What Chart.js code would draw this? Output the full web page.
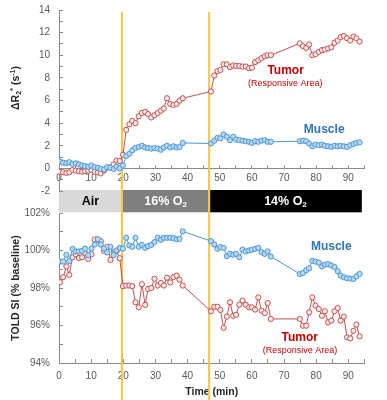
<!DOCTYPE html>
<html>
<head>
<meta charset="utf-8">
<script src="https://cdn.jsdelivr.net/npm/chart.js@4/dist/chart.umd.min.js"></script>
<style>
  html, body { margin: 0; padding: 0; background: #ffffff; }
  #wrap { position: relative; width: 387px; height: 400px; overflow: hidden; }
  #box2 { position: absolute; left: 0; top: 186px; width: 387px; height: 214px; }
  #box1 { position: absolute; left: 0; top: -9px; width: 387px; height: 219px; }
</style>
</head>
<body>
<div id="wrap">
  <div id="box2"><canvas id="c2"></canvas></div>
  <div id="box1"><canvas id="c1"></canvas></div>
</div>
<script>
// ---------------- DATA ----------------
const times = [
  0.3, 1.3, 2.3, 3.2, 4.2, 5.2, 6.2, 7.2, 8.1, 9.1, 10.1, 11.1, 12.1, 13.0, 14.0, 15.0, 16.0, 17.0, 17.9, 18.9,
  19.9, 20.9, 21.9, 22.8, 23.8, 24.8, 25.8, 26.8, 27.7, 28.7, 29.7, 30.7, 31.7, 32.6, 33.6, 34.6, 35.6, 36.6, 37.5, 38.5,
  47.3, 48.3, 49.3, 50.2, 51.2, 52.2, 53.2, 54.2, 55.1, 56.1, 57.1, 58.1, 59.1, 60.0, 61.0, 62.0, 63.0, 64.0, 64.9, 65.9,
  74.9, 75.9, 76.9, 77.8, 78.8, 79.8, 80.8, 81.8, 82.7, 83.7, 84.7, 85.7, 86.7, 87.6, 88.6, 89.6, 90.6, 91.6, 92.5, 93.5
];

const tumorR2 = [
  -0.3, -0.35, -0.4, -0.35, -0.15, -0.2, -0.25, -0.3, -0.25, -0.2,
  -0.15, -0.3, -0.35, -0.45, -0.2, 0.05, 0.1, 0.35, 0.7, 0.65,
  1.2, 3.4, 3.9, 4.2, 4.0, 4.6, 4.9, 5.0, 4.8, 4.5,
  4.7, 4.9, 5.1, 5.3, 6.2, 5.7, 5.6, 5.7, 6.0, 6.2,
  6.8, 8.2, 8.6, 8.7, 9.2, 9.2, 8.95, 9.1, 9.05, 9.05, 9.0, 9.0, 8.85, 8.9, 9.4, 9.55, 9.75, 9.9, 10.0, 10.0,
  11.05, 10.8, 10.65, 10.95, 10.0, 10.1, 10.3, 10.45, 10.5, 10.6, 10.7, 11.1, 11.3, 11.6, 11.7, 11.5, 11.3, 11.65, 11.5, 11.2
];

const muscleR2 = [
  0.6, 0.5, 0.45, 0.55, 0.4, 0.45, 0.35, 0.25, 0.2, 0.15,
  0.25, 0.1, 0.05, -0.05, -0.1, 0.1, 0.05, -0.05, 0.15, 0.0,
  0.25, 1.1, 1.3, 1.6, 1.8, 1.9, 2.0, 1.85, 1.8, 1.75,
  1.8, 1.75, 1.65, 1.85, 2.0, 1.85, 1.95, 1.85, 1.9, 2.25,
  2.2, 2.45, 2.7, 2.65, 3.0, 2.8, 2.5, 2.8, 2.55, 2.5, 2.45, 2.4, 2.35, 2.25, 2.4, 2.35, 2.45, 2.5, 2.35, 2.35,
  2.4, 2.45, 2.4, 2.2, 1.95, 2.1, 2.05, 2.1, 2.0, 1.95, 1.9, 2.0, 1.95, 2.0, 1.95, 1.9, 2.05, 2.15, 2.25, 2.3
];

const tumorTOLD = [
  98.31, 98.58, 99.15, 98.7, 99.64, 99.8, 99.6, 99.64, 99.87, 99.55,
  99.8, 100.59, 100.59, 100.5, 99.98, 100.2, 99.5, 99.91, 99.96, 99.59,
  98.1, 98.13, 98.13, 98.1, 97.24, 96.97, 98.2, 97.1, 97.95, 98.0,
  98.49, 98.13, 98.27, 98.13, 98.55, 98.3, 98.58, 98.66, 98.45, 98.13,
  96.76, 97.0, 97.0, 96.83, 95.87, 96.47, 97.24, 96.52, 96.57, 97.11, 97.33, 97.1, 96.97, 96.97, 96.85, 97.5, 96.79, 96.66, 97.2, 96.35,
  96.35, 95.99, 95.99, 96.7, 97.5, 97.06, 96.88, 96.52, 96.76, 96.17, 96.26, 96.76, 96.93, 96.26, 96.47, 95.37, 95.31, 95.72, 96.05, 95.42
];

const muscleTOLD = [
  99.41, 99.41, 99.77, 99.43, 100.09, 99.95, 99.95, 99.98, 100.1, 99.75,
  100.1, 100.32, 100.6, 100.32, 100.1, 99.9, 100.2, 99.75, 100.0, 100.14,
  100.1, 100.68, 100.27, 100.2, 100.68, 100.2, 100.3, 100.14, 100.23, 100.3,
  100.45, 100.68, 100.57, 100.68, 100.68, 100.68, 100.66, 100.6, 100.62, 101.02,
  100.5, 100.32, 100.09, 100.18, 100.14, 99.7, 99.82, 99.77, 99.82, 99.64, 100.05, 99.95, 100.0, 100.04, 100.09, 100.14, 99.91, 99.82, 99.95, 99.68,
  98.75, 98.8, 98.95, 99.05, 99.45, 99.41, 99.35, 99.15, 99.25, 99.27, 99.2, 99.12, 98.9, 98.66, 98.57, 98.52, 98.5, 98.48, 98.62, 98.75
];

const seriesNames = ['Tumor', 'Muscle'];
const tumorNote = '(Responsive Area)';
const phaseNames = ['Air', '16% O2', '14% O2'];
const phaseBounds = [0, 19.6, 46.7, 94.2];
const switchTimes = [19.6, 46.7];
const xTickLabels = [0, 10, 20, 30, 40, 50, 60, 70, 80, 90];
const r2TickLabels = [-2, 0, 2, 4, 6, 8, 10, 12, 14];
const toldTickLabels = [94, 96, 98, 100, 102];

// ---------------- STYLE ----------------
const FONT = "'Liberation Sans', Arial, sans-serif";
Chart.defaults.font.family = FONT;
const AXIS = '#8a8a8a';
const TICKTXT = '#595959';
const TUMOR = '#c4504f', TUMOR_FILL = '#fbeaea';
const MUSCLE = '#4b96d6', MUSCLE_FILL = '#b8d8f2';
const YELLOW = '#f8c545';
const TOP_SHIFT = 9; // top canvas is placed 9px above the page edge

const pts = vals => times.map((t, i) => ({ x: t, y: vals[i] }));
const ds = (label, vals, c, f) => ({
  label, data: pts(vals), borderColor: c, backgroundColor: f,
  pointBackgroundColor: f, pointBorderColor: c, pointRadius: 2.6,
  pointBorderWidth: 1, borderWidth: 1, tension: 0
});

const phaseLinesPlugin = {
  id: 'phaseLines',
  beforeDatasetsDraw(chart, args, opts) {
    const ctx = chart.ctx, xs = chart.scales.x;
    ctx.save();
    ctx.strokeStyle = YELLOW; ctx.lineWidth = 2;
    switchTimes.forEach(t => {
      const x = xs.getPixelForValue(t);
      ctx.beginPath();
      ctx.moveTo(x, opts.fromChartTop ? chart.chartArea.top + 2 : 0);
      ctx.lineTo(x, chart.height);
      ctx.stroke();
    });
    ctx.restore();
  }
};

function drawSubText(ctx, main, sub, cx, cy, size, color) {
  ctx.font = 'bold ' + size + 'px ' + FONT;
  const w1 = ctx.measureText(main).width;
  ctx.font = 'bold ' + Math.round(size * 0.65) + 'px ' + FONT;
  const w2 = sub ? ctx.measureText(sub).width : 0;
  const x0 = cx - (w1 + w2) / 2;
  ctx.fillStyle = color; ctx.textBaseline = 'middle'; ctx.textAlign = 'left';
  ctx.font = 'bold ' + size + 'px ' + FONT;
  ctx.fillText(main, x0, cy);
  if (sub) {
    ctx.font = 'bold ' + Math.round(size * 0.65) + 'px ' + FONT;
    ctx.fillText(sub, x0 + w1, cy + size * 0.3);
  }
}

const bandPlugin = {
  id: 'phaseBand',
  beforeDraw(chart, args, opts) {
    const ctx = chart.ctx, xs = chart.scales.x, top = chart.chartArea.top;
    const y0 = top - 23, h = 22.3;
    ctx.save();
    for (let i = 0; i < phaseNames.length; i++) {
      const a = xs.getPixelForValue(phaseBounds[i]);
      const b = xs.getPixelForValue(phaseBounds[i + 1]);
      ctx.fillStyle = opts.fills[i];
      ctx.fillRect(a, y0, b - a, h);
      const name = phaseNames[i];
      const m = name.match(/^(.*O)(2)$/);
      drawSubText(ctx, m ? m[1] : name, m ? m[2] : '', (a + b) / 2, y0 + h / 2, 12.5, opts.text[i]);
    }
    ctx.restore();
  }
};

const notesPlugin = {
  id: 'notes',
  afterDatasetsDraw(chart, args, opts) {
    const ctx = chart.ctx, xs = chart.scales.x, ys = chart.scales.y;
    ctx.save();
    ctx.textAlign = 'center'; ctx.textBaseline = 'middle';
    opts.items.forEach(n => {
      ctx.font = (n.bold ? 'bold ' : '') + n.size + 'px ' + FONT;
      ctx.fillStyle = n.color;
      ctx.fillText(n.text, xs.getPixelForValue(n.x), ys.getPixelForValue(n.y));
    });
    ctx.restore();
  }
};

const r2TitlePlugin = {
  id: 'r2Title',
  afterDraw(chart) {
    const ctx = chart.ctx;
    const parts = [
      { t: '\u0394R', s: 10.5, dy: 0 },
      { t: '2', s: 7, dy: 3 },
      { t: '*', s: 7.5, dy: -3.5 },
      { t: ' (s', s: 10.5, dy: 0 },
      { t: '-1', s: 7, dy: -3.5 },
      { t: ')', s: 10.5, dy: 0 }
    ];
    let total = 0;
    parts.forEach(p => { ctx.font = 'bold ' + p.s + 'px ' + FONT; p.w = ctx.measureText(p.t).width; total += p.w; });
    ctx.save();
    ctx.translate(16.5, 88 + TOP_SHIFT);
    ctx.rotate(-Math.PI / 2);
    ctx.fillStyle = '#262626'; ctx.textBaseline = 'middle'; ctx.textAlign = 'left';
    let x = -total / 2;
    parts.forEach(p => {
      ctx.font = 'bold ' + p.s + 'px ' + FONT;
      ctx.fillText(p.t, x, p.dy);
      x += p.w;
    });
    ctx.restore();
  }
};

const tickFont = { family: FONT, size: 10 };
const labelCb = (list, suffix) => v => (list.includes(Math.round(v * 100) / 100) ? v + suffix : '');

const xAxis = (extra) => Object.assign({
  type: 'linear', min: 0, max: 95,
  ticks: { stepSize: 5, autoSkip: false, maxRotation: 0, color: TICKTXT, font: tickFont, padding: 8,
           callback: labelCb(xTickLabels, '') },
  grid: { drawOnChartArea: false, drawTicks: true, tickLength: -4, color: AXIS },
  border: { color: AXIS, width: 1 }
}, extra);

// ---------------- TOP CHART ----------------
new Chart(document.getElementById('c1'), {
  type: 'line',
  data: {
    datasets: [
      ds(seriesNames[1], muscleR2, MUSCLE, MUSCLE_FILL),
      ds(seriesNames[0], tumorR2, TUMOR, TUMOR_FILL)
    ]
  },
  options: {
    responsive: true, maintainAspectRatio: false, animation: false,
    layout: { padding: { left: 0, right: 22.6, top: 0, bottom: 0 } },
    plugins: {
      legend: { display: false }, tooltip: { enabled: false },
      phaseLines: { fromChartTop: true },
      notes: { items: [
        { text: seriesNames[0], x: 70.5, y: 8.65, size: 12, bold: true, color: '#c00000' },
        { text: tumorNote, x: 70.4, y: 7.47, size: 9, bold: false, color: '#c00000' },
        { text: seriesNames[1], x: 82.5, y: 3.4, size: 12, bold: true, color: '#2e75b6' }
      ] }
    },
    scales: {
      x: xAxis({ position: { y: 0 }, afterFit: s => { s.height = 21.4; } }),
      y: {
        min: -2, max: 14,
        ticks: { stepSize: 1, autoSkip: false, color: TICKTXT, font: tickFont, padding: 13,
                 callback: labelCb(r2TickLabels, '') },
        grid: { drawOnChartArea: false, drawTicks: true, tickLength: -4, color: AXIS },
        border: { color: AXIS, width: 1 },
        afterFit: s => { s.width = 59; }
      }
    }
  },
  plugins: [phaseLinesPlugin, notesPlugin, r2TitlePlugin]
});

// ---------------- BOTTOM CHART ----------------
new Chart(document.getElementById('c2'), {
  type: 'line',
  data: {
    datasets: [
      ds(seriesNames[1], muscleTOLD, MUSCLE, MUSCLE_FILL),
      ds(seriesNames[0], tumorTOLD, TUMOR, TUMOR_FILL)
    ]
  },
  options: {
    responsive: true, maintainAspectRatio: false, animation: false,
    layout: { padding: { left: 0, right: 22.6, top: 27, bottom: 0 } },
    plugins: {
      legend: { display: false }, tooltip: { enabled: false },
      phaseLines: { fromChartTop: false },
      phaseBand: { fills: ['#d9d9d9', '#7f7f7f', '#000000'], text: ['#000000', '#ffffff', '#ffffff'] },
      notes: { items: [
        { text: seriesNames[1], x: 84.7, y: 100.18, size: 12, bold: true, color: '#2e75b6' },
        { text: seriesNames[0], x: 74.9, y: 95.37, size: 12, bold: true, color: '#c00000' },
        { text: tumorNote, x: 75.0, y: 94.65, size: 9, bold: false, color: '#c00000' }
      ] }
    },
    scales: {
      x: xAxis({
        position: 'bottom',
        ticks: { stepSize: 5, autoSkip: false, maxRotation: 0, color: TICKTXT, font: tickFont, padding: 11,
                 callback: labelCb(xTickLabels, '') },
        title: { display: true, text: 'Time (min)', color: '#262626',
                 font: { family: FONT, size: 10.5, weight: 'bold' }, padding: { top: 0, bottom: 2 } },
        afterFit: s => { s.height = 37; }
      }),
      y: {
        min: 94, max: 102,
        ticks: { stepSize: 1, autoSkip: false, color: TICKTXT, font: tickFont, padding: 13,
                 callback: labelCb(toldTickLabels, '%') },
        grid: { drawOnChartArea: false, drawTicks: true, tickLength: -4, color: AXIS },
        border: { color: AXIS, width: 1 },
        title: { display: true, text: 'TOLD SI (% baseline)', color: '#262626',
                 font: { family: FONT, size: 10.5, weight: 'bold' }, padding: { top: 10, bottom: 0 } },
        afterFit: s => { s.width = 59; }
      }
    }
  },
  plugins: [bandPlugin, phaseLinesPlugin, notesPlugin]
});
</script>
</body>
</html>
